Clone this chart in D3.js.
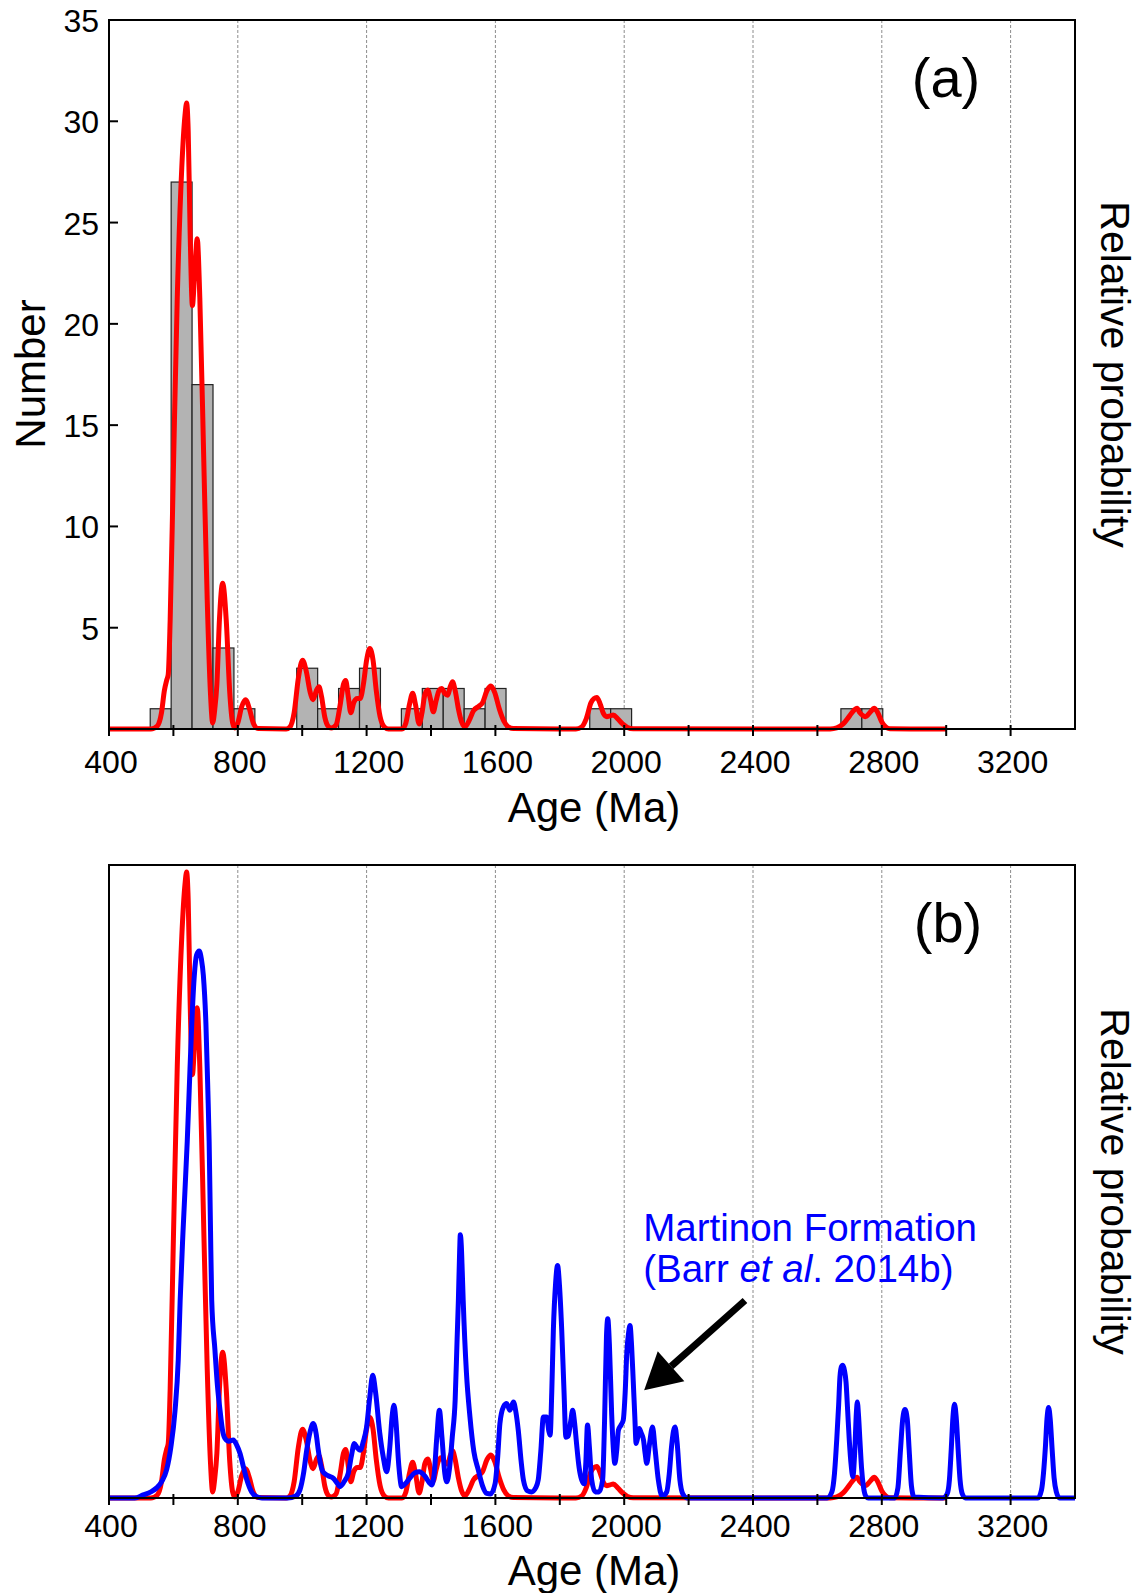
<!DOCTYPE html>
<html>
<head>
<meta charset="utf-8">
<script src="https://cdn.jsdelivr.net/npm/d3@7"></script>
<style>
  body { margin: 0; background: #fff; }
  text { font-family: "Liberation Sans", Arial, sans-serif; }
</style>
</head>
<body>
<svg id="chart" width="1141" height="1593"></svg>
<script>
// ---- data ----
const xMajorTicks = [400, 800, 1200, 1600, 2000, 2400, 2800, 3200];
const xMinorTicks = [600, 1000, 1400, 1800, 2200, 2600, 3000];
const gridAges = [800, 1200, 1600, 2000, 2400, 2800, 3200];
const yTicksA = [5, 10, 15, 20, 25, 30, 35];

// histogram bins: [from Ma, to Ma, count]
const histBins = [
  [528, 593, 1], [593, 658, 27], [658, 723, 17], [723, 788, 4], [788, 853, 1],
  [983, 1048, 3], [1048, 1113, 1], [1113, 1178, 2], [1178, 1243, 3],
  [1308, 1373, 1], [1373, 1438, 2], [1438, 1503, 2], [1503, 1568, 1], [1568, 1633, 2],
  [1893, 1958, 1], [1958, 2023, 1],
  [2673, 2738, 1], [2738, 2803, 1]
];

// probability curve of this study (red): [age, relative probability]
const redCurve = [
  [400, 0], [530, 0], [550, 0.15], [563, 0.8], [572, 1.9], [579, 2.4], [584, 2.7], [590, 5.4],
  [600, 12.8], [612, 21.3], [626, 27.7], [636, 30.3], [641, 30.9], [646, 29.5], [652, 24.5],
  [659, 20.9], [666, 22.5], [674, 24.2], [682, 21.3], [695, 12.8], [705, 6.4], [715, 1.8],
  [722, 0.3], [728, 0.9], [735, 2.2], [743, 5.4], [753, 7.2], [764, 5.4], [775, 1.8],
  [784, 0.3], [791, 0.05], [800, 0.3], [812, 1.1], [824, 1.45], [836, 1.0], [848, 0.3],
  [863, 0.02], [950, 0], [962, 0.1], [975, 0.8], [988, 2.5], [1001, 3.4], [1012, 2.9],
  [1025, 1.8], [1034, 1.45], [1044, 1.9], [1052, 2.08], [1060, 1.6], [1070, 0.6], [1080, 0.15],
  [1090, 0.05], [1105, 0.2], [1118, 1.2], [1128, 2.2], [1135, 2.4], [1143, 1.6], [1151, 0.8],
  [1160, 1.3], [1171, 1.5], [1180, 1.5], [1190, 2.2], [1200, 3.4], [1210, 3.97], [1220, 3.4],
  [1230, 1.9], [1242, 0.6], [1255, 0.1], [1268, 0], [1310, 0], [1322, 0.3], [1333, 1.2],
  [1343, 1.76], [1352, 1.2], [1363, 0.25], [1372, 0.8], [1381, 1.7], [1390, 1.92], [1398, 1.5],
  [1407, 0.85], [1416, 1.4], [1425, 1.9], [1433, 2.0], [1443, 1.75], [1452, 1.67], [1460, 2.1],
  [1467, 2.33], [1475, 1.9], [1485, 1.0], [1495, 0.35], [1506, 0.11], [1518, 0.4], [1532, 0.9],
  [1549, 1.13], [1560, 1.3], [1574, 1.9], [1586, 2.12], [1598, 1.8], [1612, 1.0], [1626, 0.4],
  [1640, 0.1], [1656, 0.02], [1850, 0], [1868, 0.1], [1882, 0.5], [1897, 1.3], [1906, 1.5],
  [1915, 1.56], [1925, 1.25], [1936, 0.75], [1946, 0.61], [1956, 0.65], [1966, 0.69],
  [1980, 0.5], [1995, 0.25], [2010, 0.08], [2028, 0.01], [2640, 0], [2660, 0.05], [2680, 0.25],
  [2700, 0.65], [2715, 0.95], [2723, 1.02], [2732, 0.8], [2749, 0.61], [2765, 0.85],
  [2776, 1.02], [2786, 0.85], [2800, 0.35], [2812, 0.1], [2825, 0.01], [3000, 0]
];

// Martinon Formation (blue): [age, relative probability]
const blueCurve = [
  [400, 0], [480, 0], [506, 0.15], [530, 0.3], [548, 0.5], [565, 0.85], [579, 1.4], [592, 2.5],
  [605, 4.3], [615, 6.8], [621, 9.75], [630, 13.2], [643, 17.6], [649, 20.1], [657, 23.4],
  [665, 25.8], [672, 26.8], [680, 27.0], [687, 26.6], [693, 25.8], [701, 23.4], [707, 20.1],
  [711, 17.6], [715, 13.5], [719, 9.75], [729, 7.3], [737, 5.5], [745, 4.3], [752, 3.4],
  [760, 2.94], [772, 2.8], [786, 2.86], [797, 2.6], [807, 2.2], [818, 1.5], [828, 0.9],
  [843, 0.3], [859, 0.06], [875, 0], [955, 0], [980, 0.1], [993, 0.4], [1004, 1.2], [1014, 2.36],
  [1025, 3.3], [1034, 3.68], [1043, 3.2], [1050, 2.36], [1058, 1.6], [1064, 1.3], [1080, 1.1],
  [1097, 0.97], [1110, 0.7], [1117, 0.56], [1130, 0.8], [1143, 1.22], [1153, 2.1], [1162, 2.69],
  [1170, 2.5], [1180, 2.36], [1190, 2.8], [1200, 3.5], [1210, 5.0], [1219, 6.06], [1228, 5.2],
  [1241, 3.19], [1252, 2.0], [1262, 1.3], [1272, 2.5], [1279, 4.0], [1285, 4.58], [1291, 3.8],
  [1300, 1.6], [1309, 0.56], [1320, 0.7], [1335, 1.0], [1350, 1.25], [1364, 1.3], [1380, 1.1],
  [1395, 0.75], [1402, 0.64], [1410, 1.2], [1418, 3.0], [1426, 4.33], [1434, 3.0], [1443, 1.2],
  [1449, 0.8], [1457, 1.4], [1466, 3.0], [1475, 4.83], [1481, 7.8], [1485, 9.75], [1489, 12.2],
  [1491, 13.0], [1494, 12.5], [1497, 11.2], [1500, 9.75], [1510, 6.2], [1521, 4.0], [1533, 2.3],
  [1547, 1.38], [1560, 0.6], [1573, 0.23], [1585, 0.2], [1599, 0.7], [1607, 2.0], [1614, 3.68],
  [1625, 4.5], [1635, 4.66], [1645, 4.33], [1656, 4.74], [1663, 4.3], [1671, 3.35], [1680, 1.8],
  [1687, 0.89], [1700, 0.35], [1712, 0.3], [1725, 0.5], [1733, 0.89], [1741, 2.3], [1749, 4.0],
  [1759, 4.0], [1766, 3.3], [1770, 3.1], [1775, 5.2], [1780, 8.28], [1787, 10.6], [1793, 11.48],
  [1799, 10.5], [1806, 8.28], [1813, 5.3], [1819, 3.0], [1826, 3.05], [1834, 3.8], [1840, 4.33],
  [1846, 3.7], [1852, 2.69], [1860, 1.5], [1868, 0.89], [1876, 0.7], [1881, 1.8], [1886, 3.6],
  [1892, 2.5], [1899, 0.89], [1910, 0.3], [1922, 0.3], [1933, 0.89], [1939, 3.8], [1945, 8.0],
  [1949, 8.85], [1954, 7.6], [1961, 4.17], [1966, 2.5], [1971, 1.71], [1977, 2.4], [1982, 3.35],
  [1990, 3.6], [1997, 3.84], [2003, 5.2], [2008, 7.13], [2014, 8.2], [2018, 8.52], [2023, 7.5],
  [2028, 5.8], [2033, 4.0], [2037, 2.69], [2042, 3.0], [2047, 3.43], [2053, 3.2], [2060, 2.86],
  [2065, 2.2], [2070, 1.71], [2078, 2.6], [2088, 3.5], [2096, 2.4], [2106, 0.89], [2118, 0.1],
  [2132, 0.3], [2140, 1.2], [2147, 2.53], [2153, 3.3], [2158, 3.5], [2164, 2.8], [2173, 0.89],
  [2182, 0.2], [2195, 0], [2630, 0], [2645, 0.3], [2653, 1.2], [2660, 2.86], [2666, 4.6],
  [2670, 5.98], [2675, 6.5], [2679, 6.55], [2684, 6.3], [2689, 5.7], [2694, 4.3], [2699, 2.86],
  [2705, 1.6], [2710, 1.05], [2716, 2.3], [2721, 4.2], [2724, 4.74], [2728, 4.0], [2732, 2.86],
  [2737, 1.5], [2743, 0.56], [2750, 0.1], [2758, 0], [2840, 0], [2850, 0.5], [2858, 2.36],
  [2865, 3.9], [2872, 4.37], [2879, 3.9], [2885, 2.36], [2892, 0.6], [2900, 0.05], [2990, 0],
  [3003, 0.2], [3010, 0.9], [3016, 2.5], [3021, 4.0], [3026, 4.63], [3031, 4.0], [3037, 2.4],
  [3043, 0.9], [3050, 0.2], [3060, 0], [3285, 0], [3296, 0.4], [3302, 1.2], [3308, 2.5],
  [3313, 3.9], [3318, 4.47], [3323, 3.9], [3329, 2.4], [3335, 1.0], [3342, 0.3], [3352, 0],
  [3400, 0]
];

// ---- layout ----
const W = 1141, H = 1593;
const plotLeft = 109, plotRight = 1075;
const panelA = { top: 20, bottom: 729 };
const panelB = { top: 865, bottom: 1498 };
const RED = '#ff0000', BLUE = '#0000ff';
const CURVE_W = 5;

const svg = d3.select('#chart');
svg.append('rect').attr('width', W).attr('height', H).attr('fill', '#fff');

const x = d3.scaleLinear().domain([400, 3400]).range([plotLeft, plotRight]);
const pxPerUnit = (panelA.bottom - panelA.top) / 35;
const yA = d3.scaleLinear().domain([0, 35]).range([panelA.bottom, panelA.top]);
const yB = d3.scaleLinear()
  .domain([0, (panelB.bottom - panelB.top) / pxPerUnit])
  .range([panelB.bottom, panelB.top]);

function drawGrid(panel) {
  svg.append('g').selectAll('line').data(gridAges).enter().append('line')
    .attr('x1', d => x(d)).attr('x2', d => x(d))
    .attr('y1', panel.top).attr('y2', panel.bottom)
    .attr('stroke', '#8c8c8c').attr('stroke-width', 1)
    .attr('stroke-dasharray', '3,2');
}

function drawAxes(panel, labelBaseline, titleBaseline, panelLabel, labelPos) {
  const g = svg.append('g');
  g.append('rect')
    .attr('x', plotLeft).attr('y', panel.top)
    .attr('width', plotRight - plotLeft).attr('height', panel.bottom - panel.top)
    .attr('fill', 'none').attr('stroke', '#000').attr('stroke-width', 2);
  // x ticks cross the axis line
  g.selectAll('line.xt').data(xMajorTicks.concat(xMinorTicks)).enter().append('line')
    .attr('x1', d => x(d)).attr('x2', d => x(d))
    .attr('y1', panel.bottom - 4).attr('y2', panel.bottom + 7)
    .attr('stroke', '#000').attr('stroke-width', 2);
  g.selectAll('text.xl').data(xMajorTicks).enter().append('text')
    .attr('x', d => x(d) + 2).attr('y', labelBaseline)
    .attr('text-anchor', 'middle').attr('font-size', 32)
    .text(d => d);
  g.append('text')
    .attr('x', 594).attr('y', titleBaseline)
    .attr('text-anchor', 'middle').attr('font-size', 42)
    .text('Age (Ma)');
  g.append('text')
    .attr('x', labelPos[0]).attr('y', labelPos[1])
    .attr('text-anchor', 'middle').attr('font-size', 56)
    .text(panelLabel);
  const cy = (panel.top + panel.bottom) / 2;
  g.append('text')
    .attr('transform', `translate(1101,${cy}) rotate(90)`)
    .attr('text-anchor', 'middle').attr('font-size', 41)
    .text('Relative probability');
  return g;
}

const lineA = d3.line().x(d => x(d[0])).y(d => yA(d[1])).curve(d3.curveMonotoneX);
const lineB = d3.line().x(d => x(d[0])).y(d => yB(d[1])).curve(d3.curveMonotoneX);

// ---- panel (a) ----
drawGrid(panelA);
svg.append('g').selectAll('rect').data(histBins).enter().append('rect')
  .attr('x', d => x(d[0])).attr('width', d => x(d[1]) - x(d[0]))
  .attr('y', d => yA(d[2])).attr('height', d => yA(0) - yA(d[2]))
  .attr('fill', '#b3b3b3').attr('stroke', '#222').attr('stroke-width', 1.2);

svg.append('path').datum(redCurve)
  .attr('d', lineA).attr('fill', 'none').attr('stroke', RED)
  .attr('stroke-width', CURVE_W).attr('stroke-linejoin', 'round');

const axA = drawAxes(panelA, 773, 822, '(a)', [946, 97]);
axA.selectAll('line.yt').data(yTicksA.slice(0, -1)).enter().append('line')
  .attr('x1', plotLeft).attr('x2', plotLeft + 9)
  .attr('y1', d => yA(d)).attr('y2', d => yA(d))
  .attr('stroke', '#000').attr('stroke-width', 2);
axA.selectAll('text.yl').data(yTicksA).enter().append('text')
  .attr('x', plotLeft - 10).attr('y', d => yA(d) + 12)
  .attr('text-anchor', 'end').attr('font-size', 32)
  .text(d => d);
axA.append('text')
  .attr('transform', `translate(45,374) rotate(-90)`)
  .attr('text-anchor', 'middle').attr('font-size', 42)
  .text('Number');

// ---- panel (b) ----
drawGrid(panelB);
svg.append('path').datum(redCurve)
  .attr('d', lineB).attr('fill', 'none').attr('stroke', RED)
  .attr('stroke-width', CURVE_W).attr('stroke-linejoin', 'round');
svg.append('path').datum(blueCurve)
  .attr('d', lineB).attr('fill', 'none').attr('stroke', BLUE)
  .attr('stroke-width', CURVE_W).attr('stroke-linejoin', 'round');

drawAxes(panelB, 1537, 1585, '(b)', [948, 942]);

// annotation
const note = svg.append('g');
note.append('text')
  .attr('x', x(2059)).attr('y', yB(12.7))
  .attr('font-size', 38.5).attr('fill', BLUE)
  .text('Martinon Formation');
const t2 = note.append('text')
  .attr('x', x(2059)).attr('y', yB(10.65))
  .attr('font-size', 38.5).attr('fill', BLUE);
t2.append('tspan').text('(Barr ');
t2.append('tspan').attr('font-style', 'italic').text('et al');
t2.append('tspan').text('. 2014b)');

// arrow
const tail = [x(2375), yB(9.75)];
const tip = [x(2062), yB(5.32)];
const ang = Math.atan2(tip[1] - tail[1], tip[0] - tail[0]);
const headLen = 36, headHalf = 20;
const base = [tip[0] - headLen * Math.cos(ang), tip[1] - headLen * Math.sin(ang)];
note.append('line')
  .attr('x1', tail[0]).attr('y1', tail[1])
  .attr('x2', base[0]).attr('y2', base[1])
  .attr('stroke', '#000').attr('stroke-width', 7);
note.append('path')
  .attr('d', d3.line()([
    tip,
    [base[0] + headHalf * Math.sin(ang), base[1] - headHalf * Math.cos(ang)],
    [base[0] - headHalf * Math.sin(ang), base[1] + headHalf * Math.cos(ang)]
  ]) + 'Z')
  .attr('fill', '#000');
</script>
</body>
</html>
